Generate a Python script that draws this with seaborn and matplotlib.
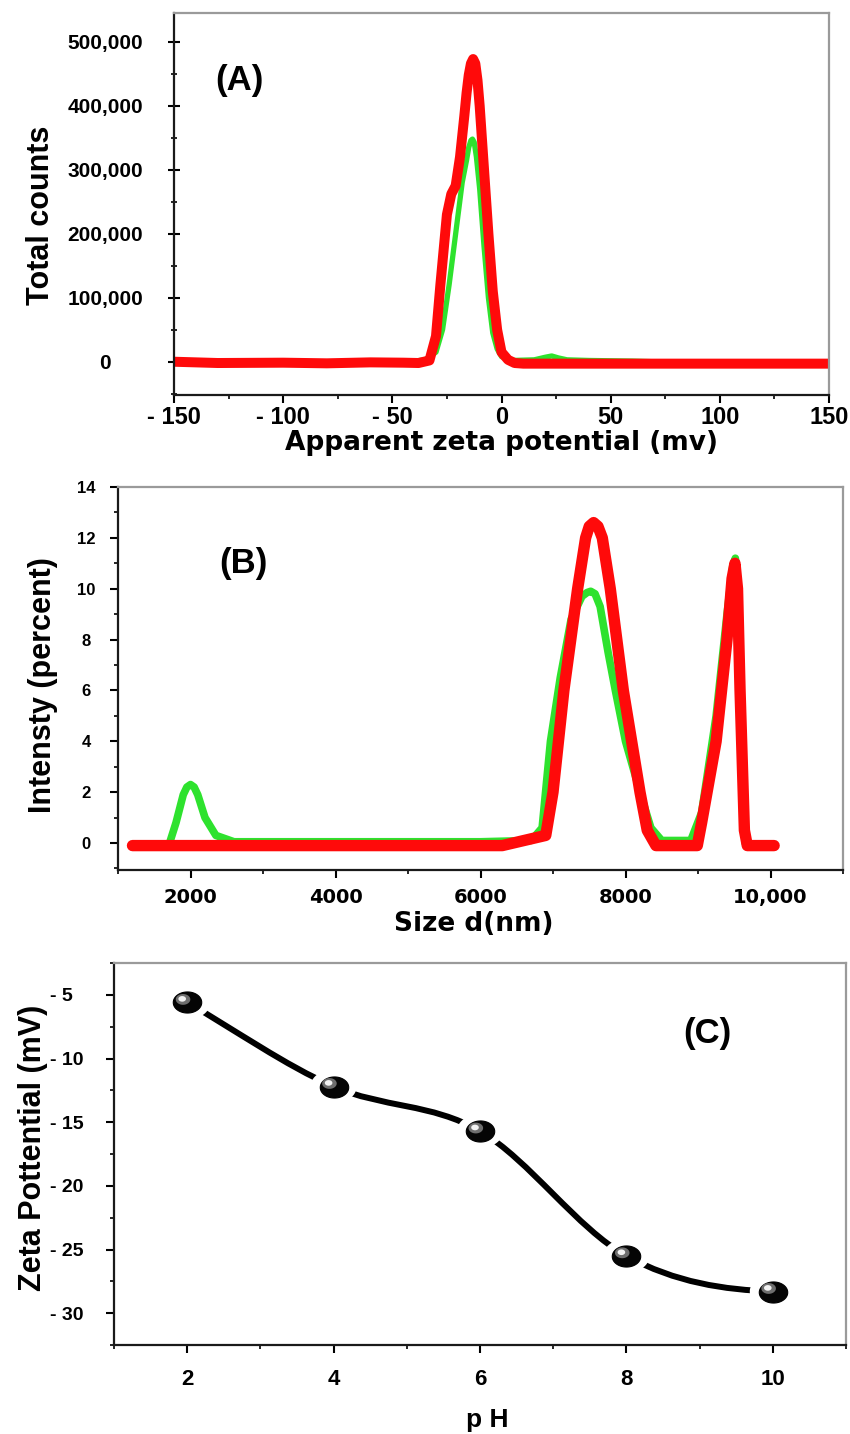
import numpy as np
import pandas as pd
import matplotlib
matplotlib.use("Agg")
import matplotlib.pyplot as plt
import matplotlib.transforms as mtransforms
from matplotlib.path import Path
from matplotlib.patches import PathPatch
from matplotlib.ticker import MultipleLocator, FixedLocator
import seaborn as sns

# ---------------- data ----------------
# Panel A: zeta potential distribution
zeta_red_x = [-150, -130, -100, -80, -60, -45, -38, -33, -30, -28, -25, -23, -21, -19, -17, -16,
              -15, -14, -13, -12, -11, -10, -8, -6, -4, -2, 0, 3, 6, 10, 20, 40, 60, 100, 150]
zeta_red_y = [0, -2000, -1500, -2500, -1000, -1500, -2000, 2000, 40000, 120000, 230000, 262000,
              275000, 320000, 385000, 420000, 448000, 466000, 473000, 466000, 440000, 400000,
              300000, 200000, 110000, 50000, 15000, 3000, -2000, -3000, -3000, -3000, -3000,
              -3000, -3000]
zeta_green_x = [-150, -100, -50, -40, -35, -30, -27, -24, -21, -18, -16, -15, -14, -13.3, -12.5,
                -11.5, -10, -8, -6, -4, -2, 0, 5, 15, 20, 23, 26, 30, 40, 60, 100, 150]
zeta_green_y = [0, 0, 0, 1000, 3000, 15000, 50000, 120000, 200000, 280000, 315000, 335000,
                346000, 348000, 343000, 320000, 270000, 180000, 100000, 45000, 20000, 8000,
                2000, 3000, 7000, 9000, 6000, 3000, 2000, 1000, -3000, -4000]
zeta_xticks = [-150, -100, -50, 0, 50, 100, 150]
zeta_xticklabels = ["- 150", "- 100", "- 50", "0", "50", "100", "150"]
zeta_yticks = [0, 100000, 200000, 300000, 400000, 500000]
zeta_yticklabels = ["0", "100,000", "200,000", "300,000", "400,000", "500,000"]

# Panel B: size distribution
size_red_x = [1200, 6300, 6600, 6900, 7000, 7150, 7340, 7450, 7500, 7560, 7620, 7680, 7790, 7970,
              8200, 8300, 8420, 8990, 9050, 9250, 9400, 9470, 9510, 9545, 9580, 9640, 9680, 10050]
size_red_y = [-0.1, -0.1, 0.1, 0.3, 2.0, 6.0, 10.0, 12.0, 12.45, 12.6, 12.45, 12.0, 10.0, 6.0,
              2.0, 0.5, -0.1, -0.1, 0.8, 4.0, 8.0, 10.4, 11.0, 10.0, 6.0, 0.5, -0.1, -0.1]
size_green_x = [1700, 1800, 1900, 1950, 2000, 2050, 2100, 2200, 2350, 2600, 4000, 6000, 6700,
                6850, 6965, 7100, 7250, 7400, 7470, 7520, 7580, 7650, 7760, 7860, 8000, 8200,
                8350, 8500, 8900, 9050, 9250, 9400, 9480, 9515, 9560, 9600, 9650]
size_green_y = [-0.1, 0.8, 1.9, 2.2, 2.3, 2.2, 1.9, 1.0, 0.3, 0.05, 0.05, 0.05, 0.1, 0.6, 4.0,
                6.5, 8.8, 9.7, 9.85, 9.9, 9.8, 9.3, 7.5, 6.0, 4.0, 2.0, 0.6, 0.1, 0.1, 1.2, 5.0,
                9.0, 10.9, 11.2, 10.0, 5.0, 0.0]
size_xticks = [2000, 4000, 6000, 8000, 10000]
size_xticklabels = ["2000", "4000", "6000", "8000", "10,000"]
size_yticks = [0, 2, 4, 6, 8, 10, 12, 14]

# Panel C: zeta potential vs pH
ph = [2, 4, 6, 8, 10]
zeta_mv = [-5.6, -12.2, -15.7, -25.5, -28.3]
ph_yticks = [-5, -10, -15, -20, -25, -30]
ph_yticklabels = ["- 5", "- 10", "- 15", "- 20", "- 25", "- 30"]

# ---------------- style ----------------
sns.set_theme(style="ticks")
plt.rcParams["font.family"] = ["Liberation Sans", "DejaVu Sans"]
plt.rcParams["font.weight"] = "bold"
for k in ["text.color", "axes.labelcolor", "xtick.color", "ytick.color"]:
    plt.rcParams[k] = "black"

RED = "#ff0a0a"
GREEN = "#2ee22e"

W, H = 850, 1434
fig = plt.figure(figsize=(W / 100, H / 100), dpi=100)


def px_axes(left, top, right, bottom):
    return fig.add_axes([left / W, 1 - bottom / H, (right - left) / W, (bottom - top) / H])


def style_spines(ax):
    for s in ["left", "bottom"]:
        ax.spines[s].set_color("#1a1a1a")
        ax.spines[s].set_linewidth(1.6)
    for s in ["top", "right"]:
        ax.spines[s].set_color("#9a9a9a")
        ax.spines[s].set_linewidth(1.6)
    ax.set_facecolor("white")


# ---------- Panel A ----------
axA = px_axes(174, 13, 829, 395)
dfAg = pd.DataFrame({"x": zeta_green_x, "y": zeta_green_y})
dfAr = pd.DataFrame({"x": zeta_red_x, "y": zeta_red_y})
sns.lineplot(data=dfAg, x="x", y="y", ax=axA, color=GREEN, linewidth=3.8, estimator=None,
             sort=False, solid_capstyle="round", solid_joinstyle="round")
sns.lineplot(data=dfAr, x="x", y="y", ax=axA, color=RED, linewidth=7.2, estimator=None,
             sort=False, solid_capstyle="butt", solid_joinstyle="round")
axA.set_xlim(-150, 150)
axA.set_ylim(-52000, 545000)
axA.xaxis.set_major_locator(FixedLocator(zeta_xticks))
axA.set_xticklabels(zeta_xticklabels)
axA.xaxis.set_minor_locator(MultipleLocator(25))
axA.yaxis.set_major_locator(FixedLocator(zeta_yticks))
axA.set_yticklabels(zeta_yticklabels)
axA.yaxis.set_minor_locator(MultipleLocator(50000))
style_spines(axA)
axA.tick_params(axis="y", which="major", direction="inout", length=9, width=1.5, pad=45,
                labelsize=15)
axA.tick_params(axis="y", which="minor", direction="inout", length=5, width=1.2)
axA.tick_params(axis="x", which="major", direction="out", length=6, width=1.5, pad=2,
                labelsize=17)
axA.tick_params(axis="x", which="minor", direction="out", length=3, width=1.2)
for lab in axA.get_yticklabels():
    lab.set_ha("center")
axA.set_xlabel("Apparent zeta potential (mv)", fontsize=19, fontweight="bold",
               family=["DejaVu Sans"], va="center")
axA.xaxis.set_label_coords(0.50, -0.125)
axA.set_ylabel("Total counts", fontsize=22, fontweight="bold", va="center")
axA.yaxis.set_label_coords(-0.203, 0.47)
axA.text(-120, 440000, "(A)", fontsize=25, fontweight="bold", ha="center", va="center")

# ---------- Panel B ----------
axB = px_axes(118, 487, 843, 870)
dfBg = pd.DataFrame({"x": size_green_x, "y": size_green_y})
dfBr = pd.DataFrame({"x": size_red_x, "y": size_red_y})
sns.lineplot(data=dfBg, x="x", y="y", ax=axB, color=GREEN, linewidth=5.5, estimator=None,
             sort=False, solid_capstyle="round", solid_joinstyle="round")
sns.lineplot(data=dfBr, x="x", y="y", ax=axB, color=RED, linewidth=8.2, estimator=None,
             sort=False, solid_capstyle="round", solid_joinstyle="round")
axB.set_xlim(1000, 11000)
axB.set_ylim(-1.06, 14)
axB.xaxis.set_major_locator(FixedLocator(size_xticks))
axB.set_xticklabels(size_xticklabels)
axB.xaxis.set_minor_locator(MultipleLocator(1000))
axB.yaxis.set_major_locator(FixedLocator(size_yticks))
axB.yaxis.set_minor_locator(MultipleLocator(1))
style_spines(axB)
axB.tick_params(axis="y", which="major", direction="out", length=6, width=1.5, pad=17,
                labelsize=12)
axB.tick_params(axis="y", which="minor", direction="out", length=3, width=1.2)
axB.tick_params(axis="x", which="major", direction="out", length=6, width=1.5, pad=7,
                labelsize=14)
axB.tick_params(axis="x", which="minor", direction="out", length=3, width=1.2)
for lab in axB.get_xticklabels():
    lab.set_family(["DejaVu Sans"])
for lab in axB.get_yticklabels():
    lab.set_ha("center")
axB.set_xlabel("Size d(nm)", fontsize=19, fontweight="bold", family=["DejaVu Sans"],
               va="center")
axB.xaxis.set_label_coords(0.49, -0.14)
axB.set_ylabel("Intensty (percent)", fontsize=22, fontweight="bold", va="center")
axB.yaxis.set_label_coords(-0.103, 0.483)
axB.text(2735, 11.0, "(B)", fontsize=25, fontweight="bold", ha="center", va="center")

# ---------- Panel C ----------
axC = px_axes(114, 963, 846, 1345)
# smooth curve through the measured points (cubic Bezier, Catmull-Rom tangents)
px_ = np.array(ph, dtype=float)
py_ = np.array(zeta_mv, dtype=float)
n = len(px_)
mx = np.zeros(n)
my = np.zeros(n)
for i in range(n):
    if i == 0:
        mx[i], my[i] = px_[1] - px_[0], py_[1] - py_[0]
    elif i == n - 1:
        mx[i], my[i] = px_[i] - px_[i - 1], 0.15 * (py_[i] - py_[i - 1])
    else:
        mx[i], my[i] = (px_[i + 1] - px_[i - 1]) / 2, (py_[i + 1] - py_[i - 1]) / 2
verts = [(px_[0], py_[0])]
codes = [Path.MOVETO]
for i in range(n - 1):
    verts += [(px_[i] + mx[i] / 3, py_[i] + my[i] / 3),
              (px_[i + 1] - mx[i + 1] / 3, py_[i + 1] - my[i + 1] / 3),
              (px_[i + 1], py_[i + 1])]
    codes += [Path.CURVE4] * 3
axC.add_patch(PathPatch(Path(verts, codes), facecolor="none", edgecolor="black",
                        linewidth=4.3, capstyle="round", zorder=2))

t = np.linspace(0, 2 * np.pi, 60)
ell = np.column_stack([1.35 * np.cos(t), np.sin(t)])
dfC = pd.DataFrame({"pH": ph, "zeta": zeta_mv})
sns.scatterplot(data=dfC, x="pH", y="zeta", ax=axC, marker=ell, s=1100, color="white",
                edgecolor="none", linewidth=0, zorder=3)
sns.scatterplot(data=dfC, x="pH", y="zeta", ax=axC, marker=ell, s=420, color="#050505",
                edgecolor="#000000", linewidth=0.8, zorder=4)
off1 = mtransforms.offset_copy(axC.transData, fig=fig, x=-3.0, y=2.2, units="points")
axC.scatter(ph, zeta_mv, marker=ell, s=110, color="#6e6e6e", edgecolors="none",
            transform=off1, zorder=5)
off2 = mtransforms.offset_copy(axC.transData, fig=fig, x=-3.6, y=2.6, units="points")
axC.scatter(ph, zeta_mv, marker=ell, s=30, color="#f2f2f2", edgecolors="none",
            transform=off2, zorder=6)

axC.set_xlim(1, 11)
axC.set_ylim(-32.5, -2.5)
axC.xaxis.set_major_locator(FixedLocator([2, 4, 6, 8, 10]))
axC.xaxis.set_minor_locator(MultipleLocator(1))
axC.yaxis.set_major_locator(FixedLocator(ph_yticks))
axC.set_yticklabels(ph_yticklabels)
axC.yaxis.set_minor_locator(MultipleLocator(2.5))
style_spines(axC)
axC.tick_params(axis="y", which="major", direction="out", length=6, width=1.5, pad=40,
                labelsize=14)
axC.tick_params(axis="y", which="minor", direction="out", length=3, width=1.2)
axC.tick_params(axis="x", which="major", direction="out", length=6, width=1.5, pad=11,
                labelsize=16)
axC.tick_params(axis="x", which="minor", direction="out", length=3, width=1.2)
for lab in axC.get_yticklabels():
    lab.set_ha("left")
axC.set_xlabel("p H", fontsize=19, fontweight="bold", va="center")
axC.xaxis.set_label_coords(0.51, -0.196)
axC.set_ylabel("Zeta Pottential (mV)", fontsize=22, fontweight="bold", va="center")
axC.yaxis.set_label_coords(-0.111, 0.516)
axC.text(9.1, -8.06, "(C)", fontsize=25, fontweight="bold", ha="center", va="center")

fig.savefig("out.png", dpi=100, facecolor="white")
